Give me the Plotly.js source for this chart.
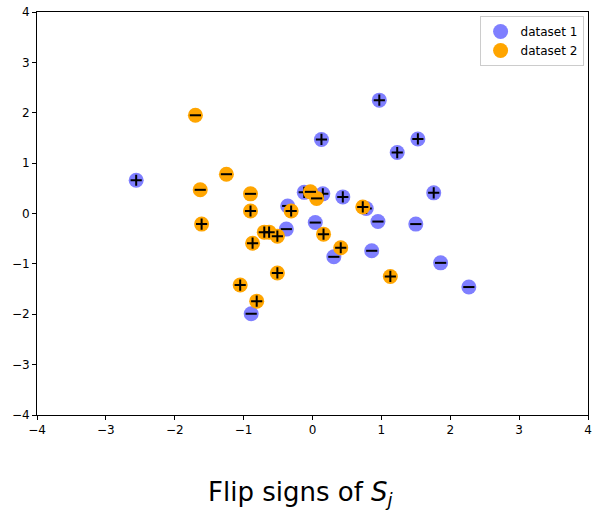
<!DOCTYPE html>
<html>
<head>
<meta charset="utf-8">
<script src="https://cdn.plot.ly/plotly-3.0.1.min.js"></script>
<style>html,body{margin:0;padding:0;background:#fff;}#chart{width:592px;height:512px;}</style>
</head>
<body>
<div id="chart"></div>
<script>
// dataset 1 (blue)
const d1x = [-2.56, 0.97, 0.13, 1.53, 1.23, 1.76, 0.44, -0.12, 0.15, -0.36, 0.04, 0.95, 1.50, -0.38, 0.86, 0.31, 1.86, 2.27, -0.89, 0.78];
const d1y = [0.66, 2.25, 1.47, 1.48, 1.21, 0.41, 0.33, 0.42, 0.39, 0.15, -0.18, -0.16, -0.21, -0.31, -0.74, -0.86, -0.98, -1.46, -1.99, 0.10];
const d1s = ['+','+','+','+','+','+','+','+','+','-','-','-','-','-','-','-','-','-','-','+'];
// dataset 2 (orange)
const d2x = [-1.70, -1.25, -1.63, -0.90, -0.90, -1.61, -0.03, 0.06, -0.31, 0.16, 0.73, 0.41, 1.13, -0.70, -0.63, -0.51, -0.87, -0.51, -1.05, -0.81];
const d2y = [1.95, 0.78, 0.47, 0.39, 0.05, -0.21, 0.43, 0.30, 0.05, -0.41, 0.13, -0.68, -1.25, -0.37, -0.37, -0.45, -0.59, -1.18, -1.42, -1.74];
const d2s = ['-','-','-','-','+','+','-','-','+','+','+','+','+','+','+','+','+','+','+','+'];
const tickVals = [-4, -3, -2, -1, 0, 1, 2, 3, 4];

function signTraces(xs, ys, ss) {
  const out = [];
  [['+', 'cross-thin'], ['-', 'line-ew']].forEach(([s, sym]) => {
    const xx = [], yy = [];
    ss.forEach((v, i) => { if (v === s) { xx.push(xs[i]); yy.push(ys[i]); } });
    out.push({x: xx, y: yy, type: 'scatter', mode: 'markers', showlegend: false, hoverinfo: 'skip',
      marker: {symbol: sym, size: 8, color: 'black', line: {color: 'black', width: 2}}});
  });
  return out;
}

const traces = [
  {x: d1x, y: d1y, type: 'scatter', mode: 'markers', name: 'dataset 1',
   marker: {size: 15, color: 'rgb(127,127,255)'}},
  ...signTraces(d1x, d1y, d1s),
  {x: d2x, y: d2y, type: 'scatter', mode: 'markers', name: 'dataset 2',
   marker: {size: 15, color: 'rgb(255,165,0)'}},
  ...signTraces(d2x, d2y, d2s)
];

const axis = {range: [-4, 4], tickvals: tickVals, showgrid: false, zeroline: false,
  showline: true, mirror: true, linecolor: 'black', linewidth: 1,
  ticks: 'outside', ticklen: 4, tickcolor: 'black',
  tickfont: {family: 'DejaVu Sans', size: 12, color: 'black'}};

const layout = {
  width: 592, height: 512,
  margin: {l: 37, r: 4, t: 12, b: 97},
  paper_bgcolor: 'white', plot_bgcolor: 'white',
  xaxis: axis, yaxis: Object.assign({}, axis),
  showlegend: true,
  legend: {x: 0.992, y: 0.99, xanchor: 'right', yanchor: 'top',
    bgcolor: 'white', bordercolor: '#cccccc', borderwidth: 1,
    font: {family: 'DejaVu Sans', size: 12, color: 'black'}},
  annotations: [{xref: 'paper', yref: 'paper', x: 0.48, y: -0.195, xanchor: 'center', yanchor: 'middle',
    showarrow: false, text: 'Flip signs of <i>S</i><sub><i>j</i></sub>',
    font: {family: 'DejaVu Sans', size: 26, color: 'black'}}]
};

Plotly.newPlot('chart', traces, layout, {displayModeBar: false, staticPlot: true});
</script>
</body>
</html>
